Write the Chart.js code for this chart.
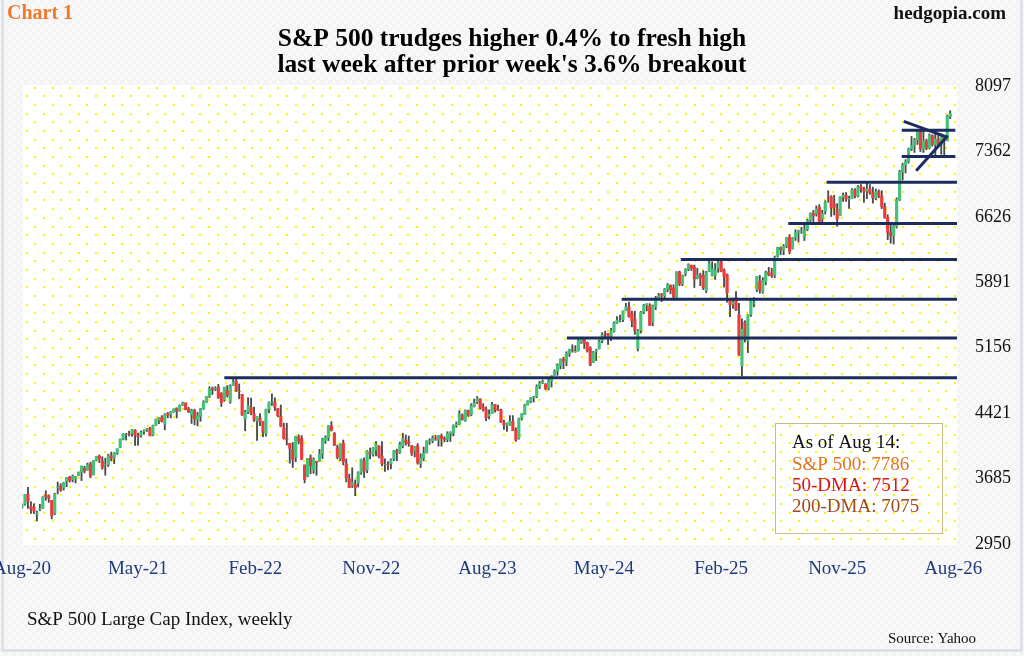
<!DOCTYPE html>
<html>
<head>
<meta charset="utf-8">
<script src="https://cdn.jsdelivr.net/npm/chart.js@4.4.1/dist/chart.umd.min.js"></script>
<style>
  html, body { margin: 0; padding: 0; background: #f4f4f5; }
  #wrap { width: 1024px; height: 656px; position: relative; }
</style>
</head>
<body>
<div id="wrap"><canvas id="chart"></canvas></div>
<script>
// weekly S&P 500 candles, first week ends 2020-08-21
const startDate = '2020-08-21';

const opens = [
  // 2020
  3360,3400,3508,3371,3364,3285,3342,3349,3500,3493,3441,3296,3583,3600,3579,3654,3699,3675,3684,3723,
  // 2021
  3764,3803,3781,3851,3731,3892,3939,3885,3842,3844,3942,3917,3969,4034,4128,4179,4186,4192,4228,4169,
  4168,4216,4230,4248,4173,4284,4343,4372,4296,4410,4406,4438,4477,4450,4514,4535,4469,4402,4450,4348,
  4385,4470,4541,4610,4697,4689,4712,4640,4572,4674,4549,4733,
  // 2022
  4778,4665,4632,4356,4431,4483,4412,4332,4363,4327,4188,4462,4541,4547,4474,4385,4255,4130,4081,4013,
  3924,4151,4134,3838,3715,3920,3782,3880,3883,3966,4112,4142,4276,4195,4034,3909,4084,3849,3682,3610,
  3619,3638,3754,3883,3781,3978,3956,4006,4053,3939,3844,3843,
  // 2023
  3853,3910,3999,3979,4054,4119,4096,4053,3992,4055,3855,3917,3975,4102,4110,4136,4129,4166,4136,4126,
  4190,4201,4282,4300,4397,4337,4450,4404,4498,4547,4578,4492,4464,4389,4415,4518,4463,4452,4311,4285,
  4290,4328,4225,4140,4364,4406,4514,4555,4593,4607,4725,4759,
  // 2024
  4743,4703,4781,4848,4892,4957,5026,5003,5093,5130,5111,5123,5219,5257,5211,5149,4988,5114,5142,5233,
  5310,5316,5283,5341,5432,5459,5471,5573,5614,5545,5476,5151,5351,5557,5635,5623,5442,5615,5712,5757,
  5737,5816,5857,5826,5723,6008,5874,5992,6040,6083,6063,5938,
  // 2025
  5970,5969,5797,6015,5969,5970,6053,6122,6027,5981,5705,5645,5718,5527,4953,5441,5232,5529,5655,5808,
  5902,5781,5897,6005,5986,5969,6187,6278,6255,6304,6398,6271,6397,6450,6457,6401,6486,6590,6664,6658,
  6734,6603,6690,6841,6853,6772,6713,6643,6849,6870,6827,6834,
  // 2026
  6930,6858,6966,6940,6915,6939,6900,6840,6910,6860,6740,6620,6450,6410,6520,6820,7130,7210,7250,7390,
  7430,7490,7580,7390,7480,7400,7540,7440,7500,7440,7520,7485,7755
];

const highs = [
  3399,3509,3588,3425,3402,3320,3397,3482,3549,3502,3441,3521,3646,3628,3645,3699,3712,3726,3711,3760,
  3826,3823,3860,3870,3887,3937,3950,3931,3914,3960,3983,3978,4020,4130,4191,4194,4219,4238,4236,4197,
  4219,4234,4249,4262,4286,4355,4372,4393,4415,4429,4440,4469,4480,4513,4546,4536,4486,4466,4466,4429,
  4475,4560,4608,4718,4714,4718,4744,4652,4713,4731,4740,4808,
  4819,4749,4632,4453,4595,4590,4490,4385,4416,4327,4465,4546,4637,4593,4474,4512,4308,4307,4081,4091,
  4158,4178,4169,3838,3913,3951,3918,3880,4013,4140,4167,4280,4325,4203,4062,4076,4119,3907,3736,3807,
  3670,3762,3905,3919,4000,4029,4034,4101,4054,4101,3906,3875,
  3907,4003,4016,4095,4195,4176,4163,4060,4048,4079,3964,4040,4110,4133,4164,4170,4170,4186,4155,4212,
  4212,4290,4322,4448,4412,4458,4456,4527,4578,4607,4584,4527,4490,4458,4541,4519,4511,4465,4342,4311,
  4393,4393,4256,4366,4415,4521,4560,4595,4610,4739,4779,4793,
  4754,4802,4842,4907,4975,5030,5048,5111,5140,5189,5179,5262,5265,5264,5220,5168,5114,5140,5239,5325,
  5342,5316,5375,5447,5505,5523,5570,5655,5669,5566,5566,5360,5564,5643,5651,5651,5636,5734,5767,5765,
  5822,5878,5863,5863,6012,6018,5973,6044,6099,6085,6085,6050,
  5994,6021,6014,6128,6120,6101,6127,6147,6043,5986,5705,5715,5786,5655,5481,5459,5528,5700,5720,5958,
  5968,5944,6017,6059,6050,6187,6285,6290,6316,6395,6427,6395,6481,6478,6508,6533,6600,6672,6699,6750,
  6764,6700,6807,6920,6865,6869,6775,6853,6895,6900,6860,6945,
  6945,6980,6990,6960,7005,6990,6960,6940,6930,6920,6780,6650,6560,6530,6840,7150,7230,7270,7400,7530,
  7510,7600,7600,7600,7500,7560,7550,7590,7560,7560,7530,7770,7820
];

const lows = [
  3354,3387,3349,3293,3292,3209,3324,3348,3441,3418,3233,3279,3512,3542,3556,3594,3645,3648,3636,3716,
  3663,3749,3778,3694,3726,3885,3865,3789,3723,3820,3883,3853,3956,4034,4120,4118,4164,4160,4057,4062,
  4150,4183,4214,4165,4165,4282,4301,4321,4233,4368,4367,4430,4367,4442,4506,4458,4428,4305,4288,4278,
  4329,4462,4537,4595,4630,4672,4585,4495,4554,4600,4531,4733,
  4663,4582,4395,4222,4415,4402,4327,4114,4279,4157,4162,4424,4507,4450,4382,4267,4129,4062,3858,3810,
  3875,4074,3900,3637,3705,3741,3744,3722,3880,3911,4080,4112,4219,4057,3906,3886,3838,3647,3584,3585,
  3492,3590,3733,3698,3751,3906,3938,3939,3918,3828,3765,3784,
  3794,3887,3885,3968,4030,4061,4048,3944,3928,3847,3809,3885,3972,4069,4087,4114,4049,4048,4099,4098,
  4103,4166,4261,4293,4341,4328,4385,4390,4490,4528,4464,4443,4335,4356,4414,4431,4448,4316,4238,4216,
  4283,4223,4103,4128,4342,4404,4511,4537,4546,4594,4695,4751,
  4682,4682,4714,4845,4845,4918,4920,4953,5058,5105,5104,5117,5204,5146,5107,4953,4988,5011,5142,5211,
  5257,5191,5234,5331,5429,5447,5448,5570,5497,5390,5306,5119,5320,5537,5569,5406,5402,5584,5698,5674,
  5697,5784,5762,5702,5696,5853,5853,5963,6021,6024,5832,5929,
  5853,5809,5773,6011,5962,5923,6003,6009,5837,5667,5505,5597,5572,5069,4835,5220,5101,5507,5615,5786,
  5768,5767,5862,5963,5945,5943,6174,6202,6201,6281,6212,6264,6361,6343,6440,6360,6470,6568,6563,6634,
  6550,6540,6658,6790,6631,6647,6521,6643,6800,6800,6720,6830,
  6840,6850,6900,6790,6830,6880,6780,6820,6840,6720,6610,6370,6330,6320,6500,6810,7040,7120,7230,7370,
  7350,7440,7360,7350,7380,7390,7420,7320,7420,7330,7310,7480,7730
];

const closes = [
  3397,3508,3427,3341,3319,3298,3348,3477,3484,3465,3270,3509,3585,3558,3638,3699,3663,3709,3703,3756,
  3825,3768,3841,3714,3887,3934,3907,3811,3842,3943,3913,3975,4020,4129,4185,4180,4181,4233,4174,4156,
  4204,4230,4247,4166,4281,4352,4370,4327,4412,4395,4437,4468,4442,4509,4535,4459,4433,4455,4357,4391,
  4471,4545,4605,4697,4682,4698,4595,4538,4712,4620,4726,4766,
  4677,4662,4398,4432,4500,4419,4349,4385,4329,4204,4463,4543,4546,4488,4393,4272,4132,4123,4024,3901,
  4158,4109,3901,3675,3912,3825,3899,3863,3962,4130,4145,4280,4228,4058,3924,4067,3873,3693,3586,3640,
  3583,3752,3901,3771,3993,3965,4026,4072,3934,3852,3845,3840,
  3895,3999,3973,4071,4136,4090,4079,3970,4046,3862,3917,3971,4109,4105,4138,4133,4169,4136,4124,4192,
  4205,4282,4299,4410,4348,4450,4399,4505,4536,4582,4478,4464,4370,4406,4516,4457,4450,4320,4288,4309,
  4327,4224,4117,4358,4415,4514,4559,4595,4604,4719,4755,4770,
  4697,4784,4840,4891,4959,5027,5006,5089,5137,5124,5117,5234,5254,5204,5123,4967,5100,5128,5223,5303,
  5305,5278,5347,5432,5465,5460,5567,5615,5505,5459,5346,5344,5554,5634,5648,5408,5626,5703,5738,5751,
  5815,5865,5808,5729,5995,5871,5969,6032,6090,6051,5931,5971,
  5942,5827,5997,6101,6041,6026,6115,6013,5955,5770,5639,5668,5581,5074,5363,5283,5525,5687,5660,5958,
  5803,5912,6000,5977,5968,6173,6279,6260,6297,6389,6238,6389,6450,6467,6460,6482,6584,6664,6644,6716,
  6553,6664,6792,6840,6729,6734,6603,6849,6870,6827,6834,6930,
  6858,6966,6940,6915,6939,6900,6840,6910,6860,6740,6620,6450,6410,6520,6820,7130,7210,7250,7390,7430,
  7490,7580,7390,7480,7400,7540,7440,7500,7440,7520,7485,7755,7786
];

const yTicks = [2950, 3685, 4421, 5156, 5891, 6626, 7362, 8097];
const tickLabels = ['Aug-20', 'May-21', 'Feb-22', 'Nov-22', 'Aug-23', 'May-24', 'Feb-25', 'Nov-25', 'Aug-26'];
const tickDates = ['2020-08-21', '2021-05-21', '2022-02-21', '2022-11-21', '2023-08-21',
                   '2024-05-21', '2025-02-21', '2025-11-21', '2026-08-21'];
const axisEnd = '2026-08-30';

// support / resistance levels and the date each one is drawn from
const levelValues = [4818, 5264, 5700, 6147, 6553, 7015];
const levelStarts = ['2021-12-10', '2024-02-24', '2024-07-02', '2024-11-18', '2025-07-29', '2025-10-27'];
// recent range and the triangle inside it
const rangeValues = [7600, 7306];
const rangeDates = ['2026-04-22', '2026-08-26'];
const triUpper = [['2026-04-27', 7700], ['2026-08-08', 7520]];
const triLower = [['2026-05-26', 7145], ['2026-08-08', 7537]];

const upColor = '#45c27a';
const downColor = '#f03a3a';
const wickColor = '#4a4a4a';
const lineColor = '#1b2d5c';
const serif = '"Liberation Serif", "Times New Roman", serif';

const n = closes.length;
if (opens.length !== n || highs.length !== n || lows.length !== n) {
  throw new Error('length mismatch ' + [opens.length, highs.length, lows.length, n].join(','));
}

const weekOf = (d) => (Date.parse(d) - Date.parse(startDate)) / 6048e5;

const bodies = closes.map((c, i) => ({ x: i, y: [opens[i], c] }));
const wicks = closes.map((c, i) => ({ x: i, y: [lows[i], highs[i]] }));

const backdrop = {
  id: 'backdrop',
  beforeDraw(chart) {
    const { ctx, chartArea: a } = chart;
    ctx.save();
    ctx.fillStyle = '#f3f3f4';
    ctx.fillRect(0, 0, chart.width, chart.height);
    ctx.fillStyle = '#f9f9fa';
    for (let y = 0; y < chart.height; y += 4) {
      for (let x = (y / 4) % 2 ? 0 : 4; x < chart.width; x += 8) ctx.fillRect(x, y, 4, 4);
    }
    ctx.strokeStyle = '#d3d9e3';
    ctx.lineWidth = 2;
    ctx.beginPath();
    ctx.moveTo(2.5, 0);
    ctx.lineTo(2.5, 650.5);
    ctx.lineTo(1021.5, 650.5);
    ctx.lineTo(1021.5, 0);
    ctx.stroke();

    const left = a.left + 1, right = a.right, top = a.top - 1, bottom = a.bottom + 1;
    ctx.fillStyle = '#ffffff';
    ctx.fillRect(left, top, right - left, bottom - top);
    ctx.fillStyle = '#fff500';
    const p = 8.675;
    for (let j = 0, y = a.top + 1.7; y < bottom; j++, y += p) {
      for (let x = left + 3.7 + (j % 2 ? 0 : p); x < right; x += 2 * p) {
        ctx.fillRect(Math.round(x) - 1, Math.round(y) - 1, 2, 2);
      }
    }
    ctx.restore();
  }
};

const levels = {
  id: 'levels',
  afterDatasetsDraw(chart) {
    const { ctx, chartArea: a, scales: { x, y } } = chart;
    const seg = (x1, y1, x2, y2) => {
      ctx.beginPath();
      ctx.moveTo(x1, y1);
      ctx.lineTo(x2, y2);
      ctx.stroke();
    };
    ctx.save();
    ctx.strokeStyle = lineColor;
    ctx.lineWidth = 3;
    levelValues.forEach((v, i) => {
      const py = y.getPixelForValue(v);
      seg(x.getPixelForValue(weekOf(levelStarts[i])), py, a.right, py);
    });
    rangeValues.forEach((v) => {
      const py = y.getPixelForValue(v);
      seg(x.getPixelForValue(weekOf(rangeDates[0])), py, x.getPixelForValue(weekOf(rangeDates[1])), py);
    });
    [triUpper, triLower].forEach(([p1, p2]) => {
      seg(x.getPixelForValue(weekOf(p1[0])), y.getPixelForValue(p1[1]),
          x.getPixelForValue(weekOf(p2[0])), y.getPixelForValue(p2[1]));
    });
    ctx.restore();
  }
};

const texts = {
  id: 'texts',
  afterDraw(chart) {
    const { ctx } = chart;
    ctx.save();
    ctx.textBaseline = 'middle';

    ctx.textAlign = 'left';
    ctx.fillStyle = '#f07a2c';
    ctx.font = 'bold 20px ' + serif;
    ctx.fillText('Chart 1', 7, 14);

    ctx.textAlign = 'right';
    ctx.fillStyle = '#111111';
    ctx.font = 'bold 19px ' + serif;
    ctx.fillText('hedgopia.com', 1006, 14);

    ctx.textAlign = 'center';
    ctx.fillStyle = '#000000';
    ctx.font = 'bold 25.5px ' + serif;
    ctx.fillText('S&P 500 trudges higher 0.4% to fresh high', 512, 39);
    ctx.fillText("last week after prior week's 3.6% breakout", 512, 65);

    ctx.textAlign = 'left';
    ctx.fillStyle = '#111111';
    ctx.font = '19px ' + serif;
    ctx.fillText('S&P 500 Large Cap Index, weekly', 27, 620);
    ctx.font = '15px ' + serif;
    ctx.fillText('Source: Yahoo', 888, 639);

    // info box
    ctx.strokeStyle = '#c9b98e';
    ctx.lineWidth = 1;
    ctx.strokeRect(775.5, 423.5, 167, 110);
    ctx.font = '19px ' + serif;
    const rows = [
      ['As of Aug 14:', '#111111'],
      ['S&P 500: 7786', '#e0742a'],
      ['50-DMA: 7512', '#d8141c'],
      ['200-DMA: 7075', '#9c4a1e']
    ];
    rows.forEach(([t, c], i) => {
      ctx.fillStyle = c;
      ctx.fillText(t, 792, 443.5 + i * 21.2);
    });
    ctx.restore();
  }
};

new Chart(document.getElementById('chart'), {
  type: 'bar',
  data: {
    datasets: [
      {
        data: bodies,
        backgroundColor: (ctx) => (closes[ctx.dataIndex] >= opens[ctx.dataIndex] ? upColor : downColor),
        barThickness: 2.5,
        grouped: false,
      },
      {
        data: wicks,
        backgroundColor: wickColor,
        barThickness: 1.2,
        grouped: false,
      },
    ],
  },
  options: {
    responsive: true,
    maintainAspectRatio: false,
    animation: false,
    layout: { padding: { left: 22, right: 7, top: 86, bottom: 0 } },
    plugins: {
      legend: { display: false },
      tooltip: { enabled: false },
    },
    scales: {
      x: {
        type: 'linear',
        offset: false,
        min: 0,
        max: weekOf(axisEnd),
        grid: { display: false, drawTicks: false },
        border: { display: false },
        afterBuildTicks(scale) {
          scale.ticks = tickDates.map((d) => ({ value: weekOf(d) }));
        },
        afterFit(scale) {
          scale.height = 112;
          scale.paddingLeft = 0;
          scale.paddingRight = 0;
        },
        ticks: {
          autoSkip: false,
          maxRotation: 0,
          padding: 14,
          color: '#1f3a7a',
          font: { family: serif, size: 19 },
          callback: (v, i) => tickLabels[i],
        },
      },
      y: {
        type: 'linear',
        position: 'right',
        min: yTicks[0],
        max: yTicks[yTicks.length - 1],
        grid: { display: false, drawTicks: false },
        border: { display: false },
        afterBuildTicks(scale) {
          scale.ticks = yTicks.map((v) => ({ value: v }));
        },
        afterFit(scale) {
          scale.width = 60;
          scale.paddingTop = 0;
          scale.paddingBottom = 0;
        },
        ticks: {
          padding: 18,
          color: '#111111',
          font: { family: serif, size: 18 },
          callback: (v) => String(v),
        },
      },
    },
  },
  plugins: [backdrop, levels, texts],
});
</script>
</body>
</html>
